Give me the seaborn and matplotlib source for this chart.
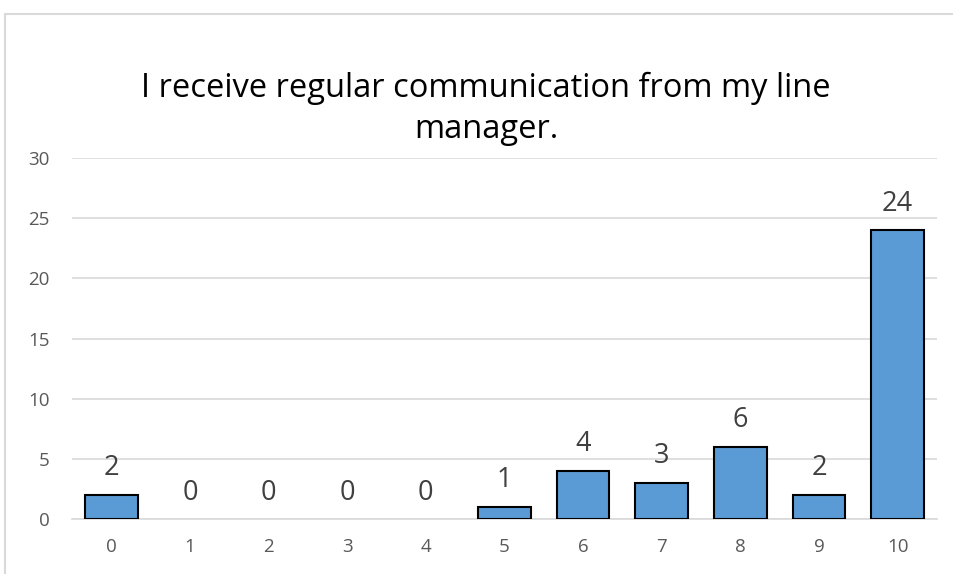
import matplotlib
matplotlib.use("Agg")
import matplotlib.pyplot as plt
from matplotlib.lines import Line2D
import seaborn as sns
import pandas as pd

# Survey responses: rating (0-10) and number of respondents
ratings = ["0", "1", "2", "3", "4", "5", "6", "7", "8", "9", "10"]
counts = [2, 0, 0, 0, 0, 1, 4, 3, 6, 2, 24]
title = "I receive regular communication from my line\nmanager."

sns.set_theme(style="white")
plt.rcParams["font.family"] = ["Open Sans", "DejaVu Sans"]

df = pd.DataFrame({"rating": ratings, "count": counts})

W, H = 954, 574
fig = plt.figure(figsize=(W / 100, H / 100), dpi=100)
ax = fig.add_axes([72 / W, 1 - 519 / H, (937 - 72) / W, (519 - 158) / H])

sns.barplot(data=df, x="rating", y="count", order=ratings, color="#5b9bd5",
            saturation=1, width=0.67, edgecolor="black", linewidth=1.5,
            ax=ax, zorder=3)

# empty categories get no outline
for patch, v in zip(ax.patches, counts):
    if v == 0:
        patch.set_linewidth(0)

ax.set_xlim(-0.5, len(ratings) - 0.5)
ax.set_ylim(0, 30)
ax.set_yticks(range(0, 31, 5))
ax.yaxis.grid(True, color="#d9d9d9", linewidth=1.2, zorder=0)
ax.set_axisbelow(True)
for side in ["left", "right", "top"]:
    ax.spines[side].set_visible(False)
ax.spines["bottom"].set_color("#d9d9d9")
ax.spines["bottom"].set_linewidth(1.2)
ax.tick_params(axis="both", length=0, labelsize=13.5, colors="#595959")
ax.tick_params(axis="y", pad=16)
ax.tick_params(axis="x", pad=14)
ax.set_xlabel("")
ax.set_ylabel("")

for i, v in enumerate(counts):
    ax.annotate(str(v), (i, v), xytext=(0, 9), textcoords="offset points",
                ha="center", va="bottom", fontsize=19.5, color="#404040")

fig.text(486 / W, 1 - 109 / H, title, ha="center", va="center",
         fontsize=23.5, color="black", linespacing=1.3)

# chart frame
fig.add_artist(Line2D([5 / W, 5 / W], [0, 1 - 14 / H], transform=fig.transFigure,
                      color="#d9d9d9", linewidth=1.5))
fig.add_artist(Line2D([5 / W, 1], [1 - 14 / H, 1 - 14 / H], transform=fig.transFigure,
                      color="#d9d9d9", linewidth=1.5))

fig.savefig("out.png", dpi=100, facecolor="white")
